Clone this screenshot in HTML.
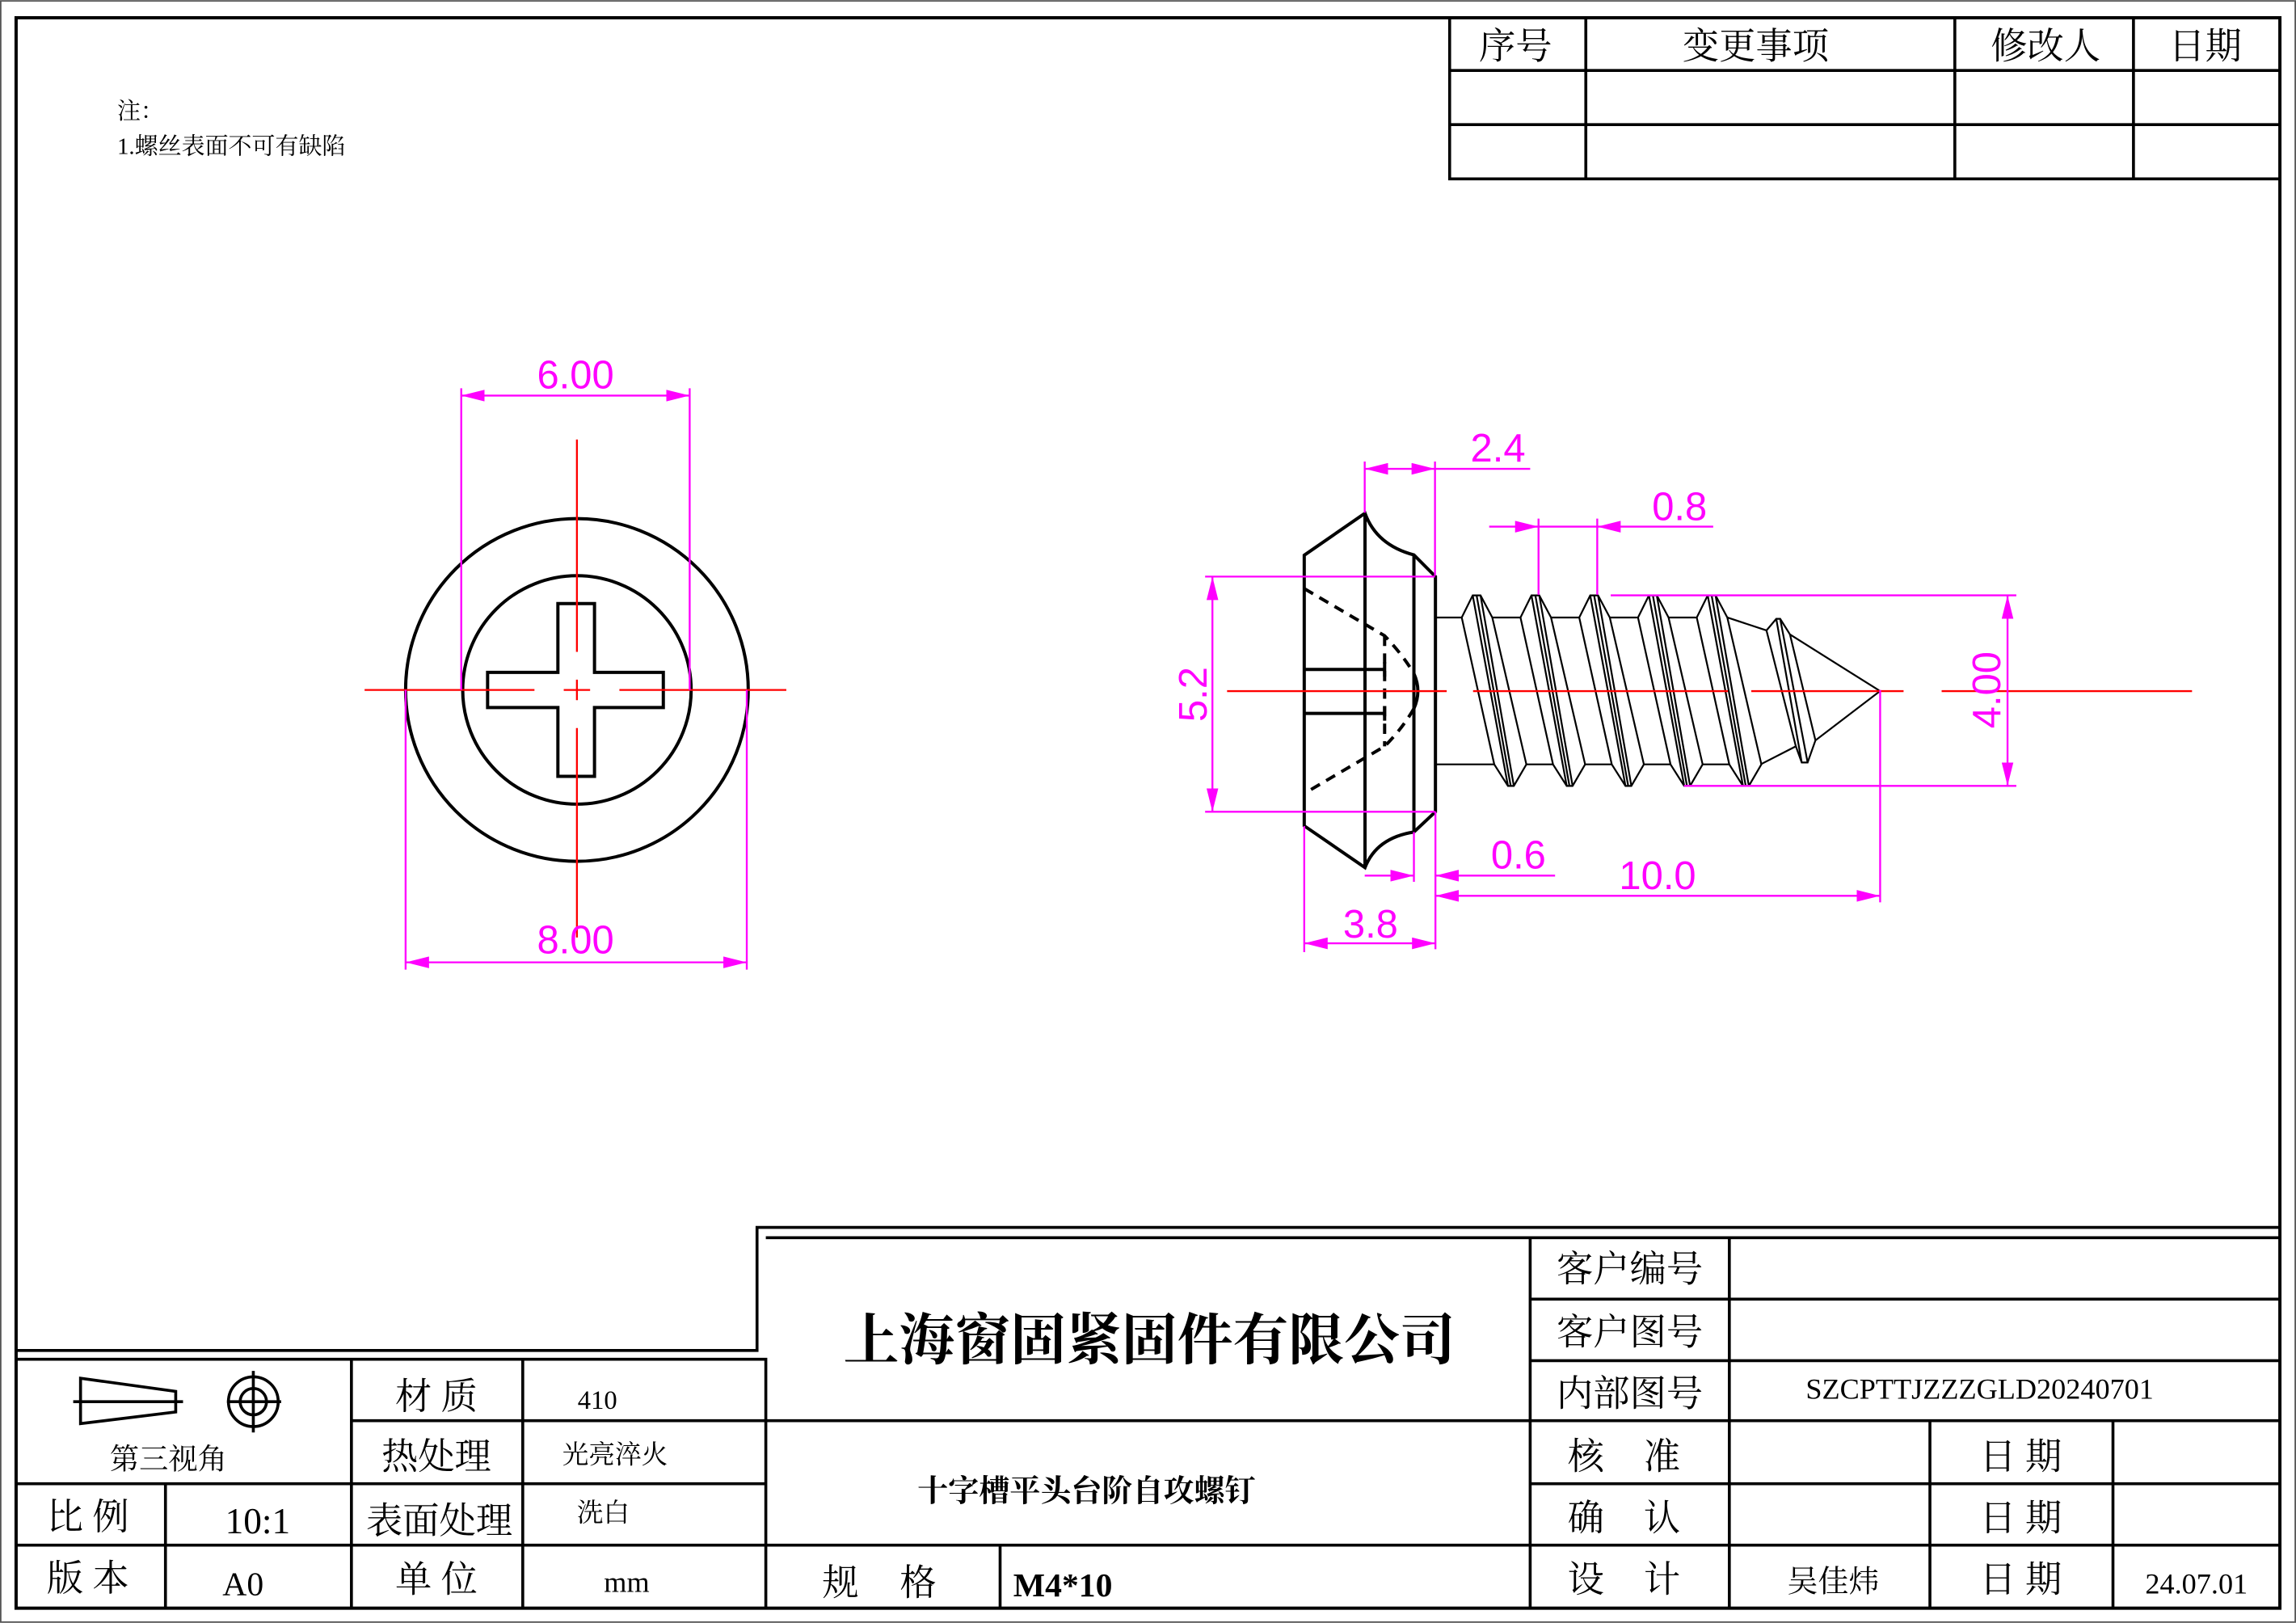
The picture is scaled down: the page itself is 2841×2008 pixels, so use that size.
<!DOCTYPE html>
<html><head><meta charset="utf-8"><style>
html,body{margin:0;padding:0;background:#fff}
svg{display:block}
text{font-family:"Liberation Serif","Noto Serif CJK SC",serif;fill:#000}
.d{font-family:"Liberation Sans","DejaVu Sans",sans-serif;fill:#f0f;font-size:27px}
.k{stroke:#000;stroke-width:2.2;fill:none}
.m{stroke:#f0f;stroke-width:1.3;fill:none}
.r{stroke:#f00;stroke-width:1.3;fill:none}
.t{stroke:#000;stroke-width:2;fill:none}
</style></head><body>
<svg width="2841" height="2008" viewBox="0 0 1568 1108" xmlns="http://www.w3.org/2000/svg">
<defs>
<marker id="a" markerUnits="userSpaceOnUse" markerWidth="16" markerHeight="8" refX="16" refY="4" orient="auto-start-reverse"><path d="M0,0 L16,4 L0,8 Z" fill="#f0f"/></marker>
</defs>
<rect x="0.5" y="0.5" width="1567" height="1107" fill="none" stroke="#555" stroke-width="1"/>
<rect x="11" y="12" width="1546" height="1086" fill="none" stroke="#000" stroke-width="2.2"/>

<g class="t">
<path d="M990,12 V122 H1557 M990,48 H1557 M990,85 H1557 M1083,12 V122 M1335,12 V122 M1457,12 V122"/>
</g>
<g font-size="25" text-anchor="middle">
<text x="1035" y="40">序号</text><text x="1199" y="40">变更事项</text><text x="1397" y="40">修改人</text><text x="1506" y="40">日期</text>
</g>

<text x="80" y="81" font-size="16">注：</text>
<text x="80" y="105" font-size="16">1.螺丝表面不可有缺陷</text>

<g class="k">
<circle cx="394" cy="471" r="117"/>
<circle cx="394" cy="471" r="78"/>
<path d="M381,412 H406 V459 H453 V483 H406 V530 H381 V483 H333 V459 H381 Z"/>
</g>
<g class="r">
<path d="M249,471 H365 M385,471 H403 M423,471 H537"/>
<path d="M394,300 V445 M394,464 V478 M394,497 V640"/>
</g>
<g class="m">
<path d="M315,265 V471 M471,265 V471"/>
<line x1="315" y1="270" x2="471" y2="270" marker-start="url(#a)" marker-end="url(#a)"/>
<path d="M277,471 V662 M510,471 V662"/>
<line x1="277" y1="657" x2="510" y2="657" marker-start="url(#a)" marker-end="url(#a)"/>
</g>
<text class="d" x="393" y="265" text-anchor="middle">6.00</text>
<text class="d" x="393" y="651" text-anchor="middle">8.00</text>

<g class="k">
<path d="M890.7,379 L932.2,350.3 Q940,372 965.6,378.8 L980.3,393.6 V554.2 L965.6,568 Q940,572 932.2,592.3 L890.7,563.8 Z"/>
<path d="M932.2,350.3 V592.3 M965.6,378.8 V568"/>
<path d="M890.7,457 H945.6 M890.7,487 H945.6 M945.6,452 V462 M945.6,482 V492"/>
<path d="M965.6,459.8 Q971,471.8 965.6,483.7"/>
<path stroke-dasharray="7,5" d="M890.7,401.8 L945.6,434 Q958,447 965.6,459.8 M965.6,483.7 Q958,497 945.6,509.5 L890.7,541.7 M945.6,434 V509.5"/>
</g>
<g transform="translate(872,331) scale(0.2675,0.184)" stroke="#000" stroke-width="2.2" fill="none">
<path vector-effect="non-scaling-stroke" d="M405,492 H472 M550,492 H622 M700,492 H772 M850,492 H920 M1000,492 H1070 M405,1037 H555 M637,1037 H705 M787,1037 H855 M937,1037 H1005 M1087,1037 H1155"/>
<g id="th">
<path vector-effect="non-scaling-stroke" d="M472,492 L500,410 L520,410 L550,492 L637,1037 L605,1117 L590,1117 L555,1037 Z M500,410 L590,1117 M520,410 L605,1117 M510,410 L597,1117"/>
</g>
<use href="#th" x="150"/><use href="#th" x="300"/><use href="#th" x="450"/><use href="#th" x="600"/>
<path vector-effect="non-scaling-stroke" d="M1150,492 L1250,540 L1275,497 L1285,497 L1310,555 L1540,765 L1375,948 L1355,1030 L1340,1030 L1325,970 L1235,1037 M1250,540 L1325,970 M1275,497 L1340,1030 M1285,497 L1355,1030 M1310,555 L1375,948"/>
</g>
<path class="r" d="M838,471.8 H988 M1006,471.8 H1180 M1196,471.8 H1300 M1326,471.8 H1497"/>

<g class="m">
<path d="M932,315 V350 M980,315 V393"/>
<line x1="932" y1="320" x2="980" y2="320" marker-start="url(#a)" marker-end="url(#a)"/>
<path d="M980,320 H1045"/>
<path d="M1050.7,354 V406 M1090.8,354 V406"/>
<line x1="1017" y1="359.5" x2="1050.7" y2="359.5" marker-end="url(#a)"/>
<line x1="1170" y1="359.5" x2="1090.8" y2="359.5" marker-end="url(#a)"/>
<path d="M1050.7,359.5 H1090.8"/>
<path d="M823,393.6 H980 M823,554.2 H980"/>
<line x1="828" y1="393.6" x2="828" y2="554.2" marker-start="url(#a)" marker-end="url(#a)"/>
<path d="M1100,406.4 H1377 M1150,536.5 H1377"/>
<line x1="1371" y1="406.4" x2="1371" y2="536.5" marker-start="url(#a)" marker-end="url(#a)"/>
<path d="M965.6,568 V602 M980.3,554 V648 M1284,471 V616 M890.7,564 V650"/>
<line x1="932" y1="597.8" x2="965.6" y2="597.8" marker-end="url(#a)"/>
<line x1="1062" y1="597.8" x2="980.3" y2="597.8" marker-end="url(#a)"/>
<line x1="980.3" y1="611.6" x2="1284" y2="611.6" marker-start="url(#a)" marker-end="url(#a)"/>
<line x1="890.7" y1="644" x2="980.3" y2="644" marker-start="url(#a)" marker-end="url(#a)"/>
</g>
<text class="d" x="1023" y="315" text-anchor="middle">2.4</text>
<text class="d" x="1147" y="355" text-anchor="middle">0.8</text>
<text class="d" x="1037" y="593" text-anchor="middle">0.6</text>
<text class="d" x="1132" y="607" text-anchor="middle">10.0</text>
<text class="d" x="936" y="640" text-anchor="middle">3.8</text>
<text class="d" transform="translate(824,474) rotate(-90)" text-anchor="middle">5.2</text>
<text class="d" transform="translate(1366,471) rotate(-90)" text-anchor="middle">4.00</text>

<g class="t">
<path d="M11,922 H517 V838 H1557 M11,928 H523 V1098 M523,845 H1557"/>
<path d="M11,1013 H523 M240,970 H523 M11,1055 H1557 M113,1013 V1098 M240,928 V1098 M357,928 V1098"/>
<path d="M523,970 H1557 M683,1055 V1098 M1045,845 V1098 M1181,845 V1098 M1045,887 H1557 M1045,929 H1557 M1045,1013 H1557 M1318,970 V1098 M1443,970 V1098"/>
</g>
<g class="t" stroke-width="1.5">
<path d="M55,941 L120,950 V964 L55,972 Z M50,957 H125"/>
<circle cx="173" cy="957" r="17"/><circle cx="173" cy="957" r="9"/>
<path d="M155,957 H192 M173,936 V978"/>
</g>
<text x="115" y="1003" font-size="20" text-anchor="middle">第三视角</text>
<g font-size="25" text-anchor="middle">
<text x="298" y="962">材 质</text>
<text x="298" y="1003">热处理</text>
<text x="300" y="1047">表面处理</text>
<text x="298" y="1087">单 位</text>
<text x="60" y="1044">比 例</text>
<text x="60" y="1086">版 本</text>
<text x="176" y="1047">10:1</text>
<text x="166" y="1089" font-size="23">A0</text>
<text x="574" y="1089">规</text><text x="627" y="1089">格</text>
<text x="1113" y="875">客户编号</text>
<text x="1113" y="918">客户图号</text>
<text x="1113" y="960">内部图号</text>
<text x="1083" y="1003">核</text><text x="1135" y="1003">准</text>
<text x="1083" y="1045">确</text><text x="1135" y="1045">认</text>
<text x="1083" y="1087">设</text><text x="1135" y="1087">计</text>
<text x="1380" y="1003">日 期</text>
<text x="1380" y="1045">日 期</text>
<text x="1380" y="1087">日 期</text>
</g>
<g font-size="18" text-anchor="middle">
<text x="408" y="962">410</text>
<text x="420" y="999">光亮淬火</text>
<text x="412" y="1039">洗白</text>
<text x="428" y="1087" font-size="20">mm</text>
</g>
<text x="785" y="928" font-size="38" font-weight="bold" text-anchor="middle">上海窗固紧固件有限公司</text>
<text x="742" y="1025" font-size="21" font-weight="bold" text-anchor="middle">十字槽平头台阶自攻螺钉</text>
<text x="692" y="1090" font-size="23" font-weight="bold">M4*10</text>
<text x="1352" y="955" font-size="20" text-anchor="middle">SZCPTTJZZZGLD20240701</text>
<text x="1252" y="1087" font-size="21" text-anchor="middle">吴佳炜</text>
<text x="1500" y="1088" font-size="20" text-anchor="middle">24.07.01</text>
</svg>
</body></html>
